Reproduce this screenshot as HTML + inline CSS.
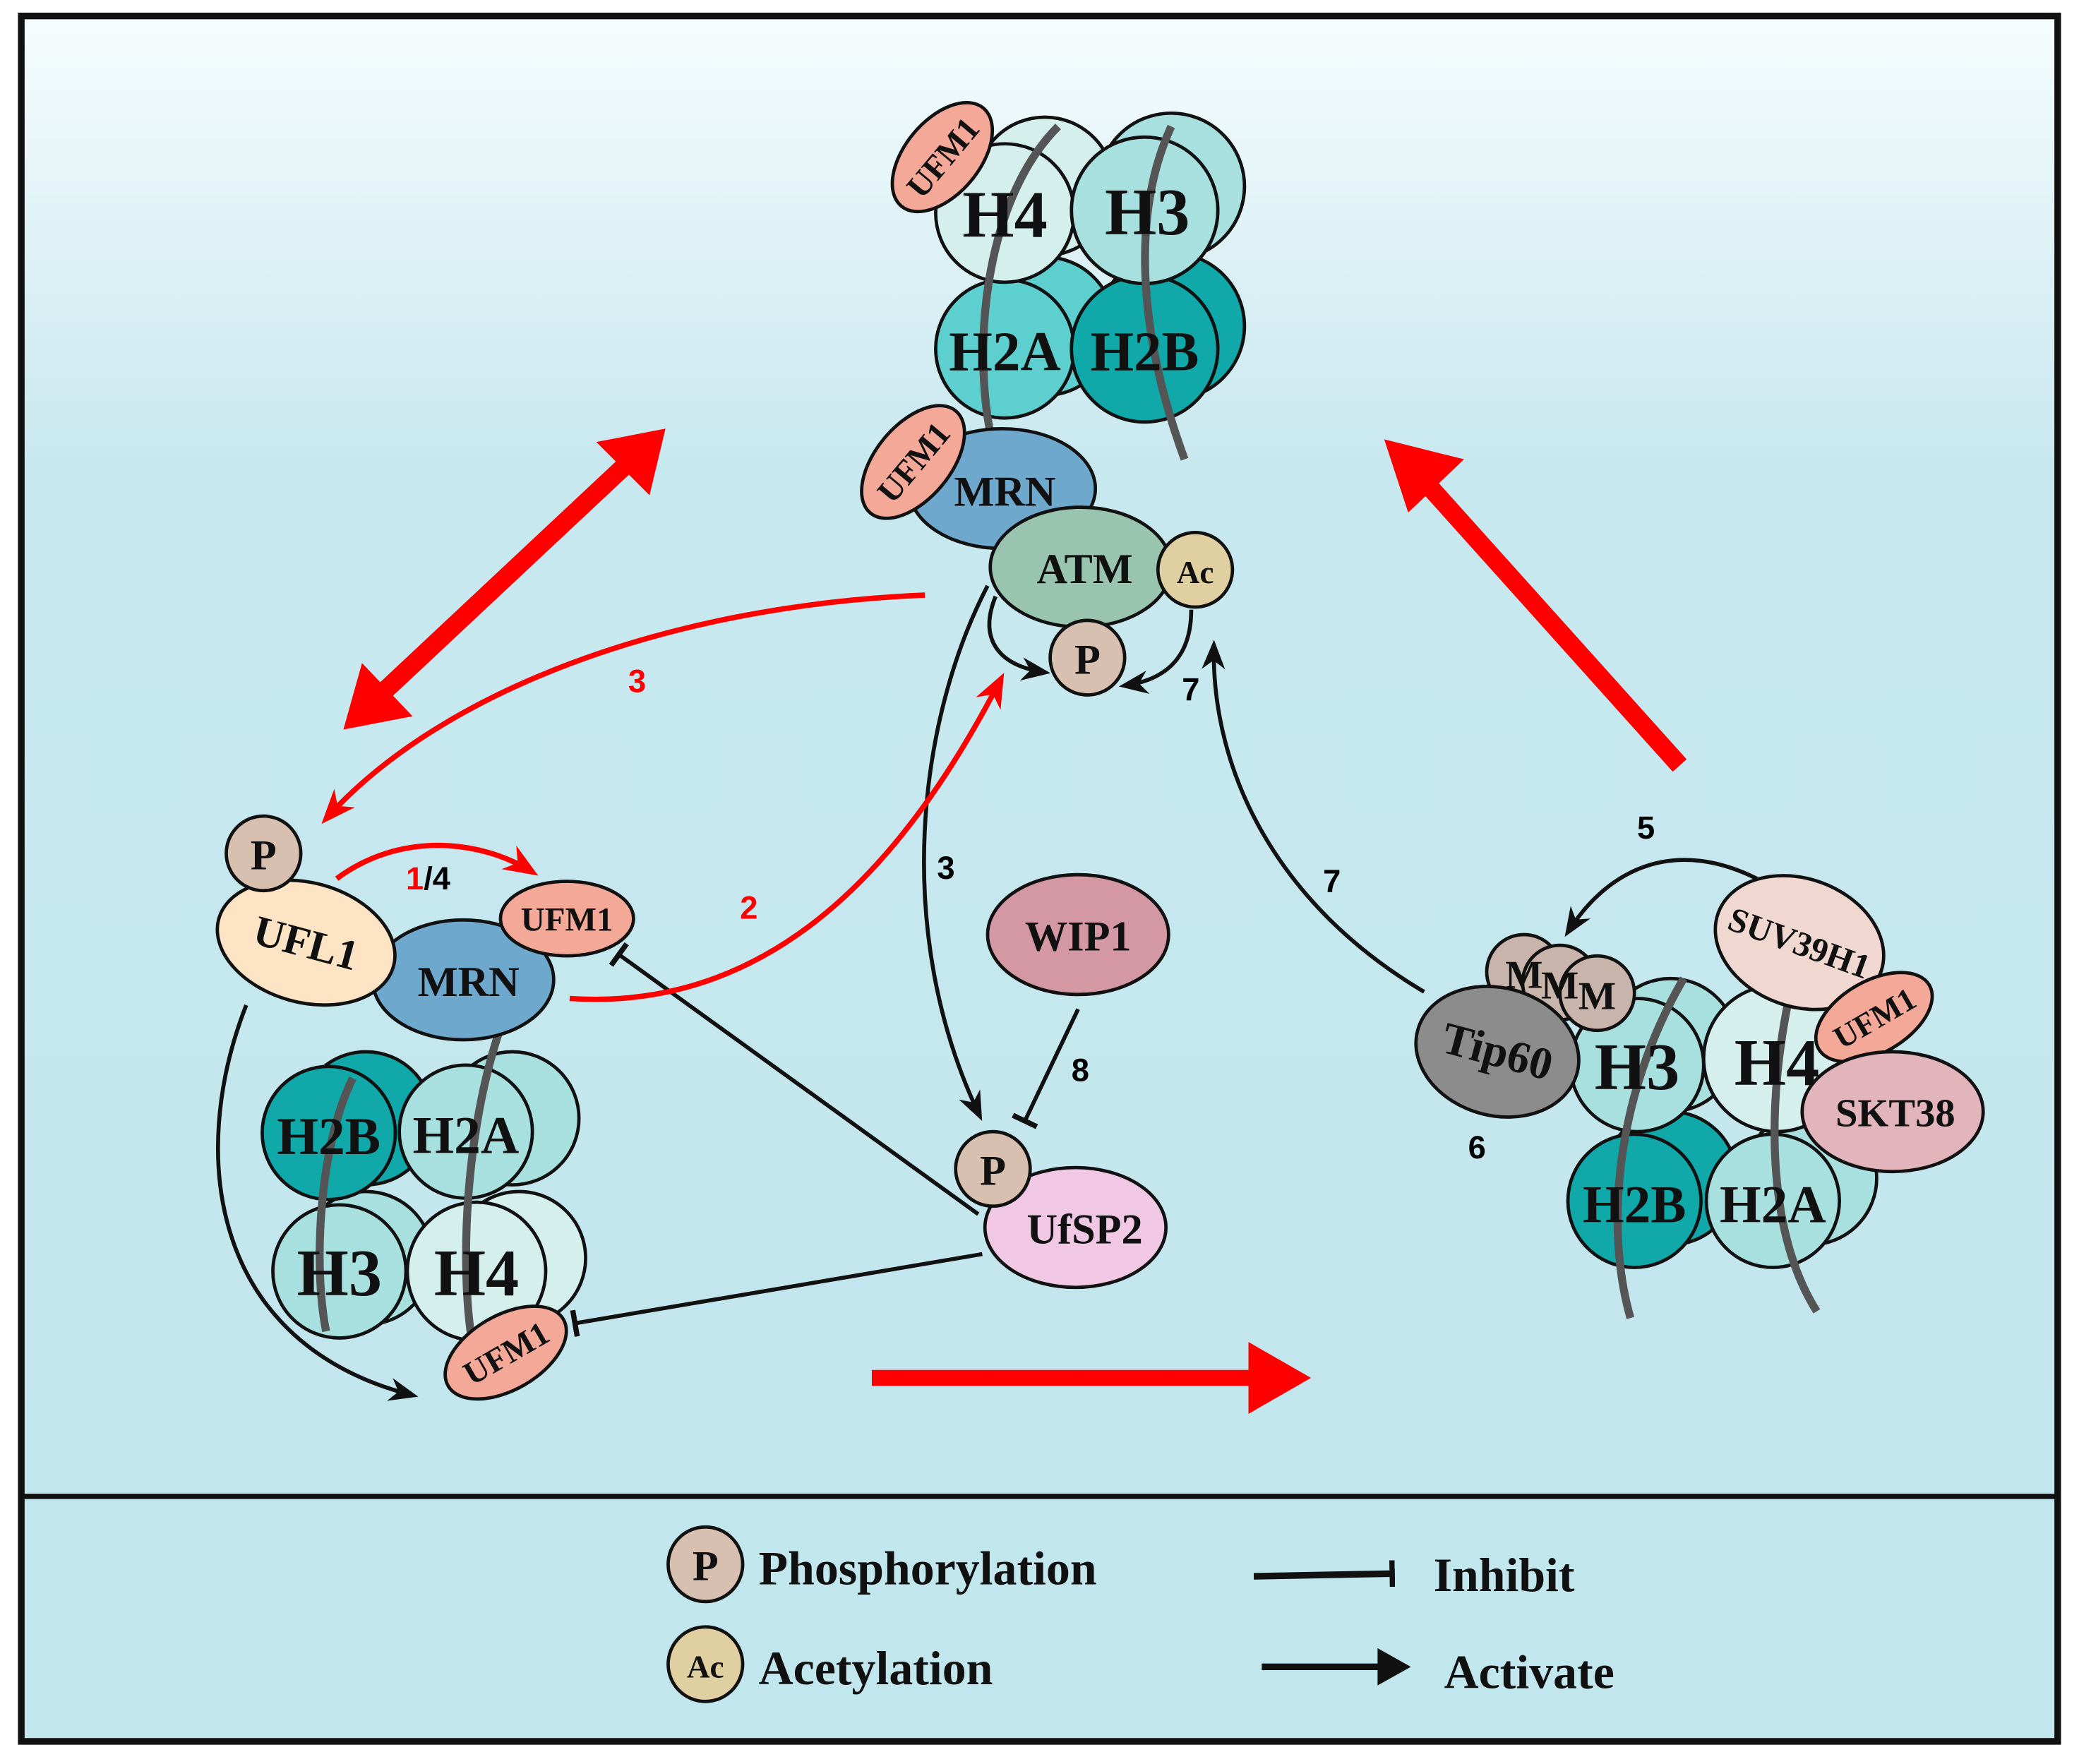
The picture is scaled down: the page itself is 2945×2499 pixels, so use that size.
<!DOCTYPE html>
<html><head><meta charset="utf-8"><style>
html,body{margin:0;padding:0;background:#fff;}
svg{display:block;}
.lb{font-family:"Liberation Serif",serif;font-weight:bold;fill:#111;}
.nm{font-family:"Liberation Sans",sans-serif;font-weight:bold;font-size:24px;}
</style></head><body>
<svg width="2945" height="2499" viewBox="0 0 1562 1325" preserveAspectRatio="none" xmlns="http://www.w3.org/2000/svg">
<defs>
<linearGradient id="bg" x1="0" y1="0" x2="0" y2="1">
<stop offset="0" stop-color="#f6fcfd"/><stop offset="0.3" stop-color="#c8e8ef"/><stop offset="1" stop-color="#c2e6ee"/>
</linearGradient>
<marker id="ak" viewBox="0 0 10 10" markerWidth="22" markerHeight="22" refX="8" refY="5" orient="auto" markerUnits="userSpaceOnUse"><path d="M0,1 L10,5 L0,9 L3,5z" fill="#111"/></marker>
<marker id="ar" viewBox="0 0 10 10" markerWidth="26" markerHeight="26" refX="8" refY="5" orient="auto" markerUnits="userSpaceOnUse"><path d="M0,1 L10,5 L0,9 L3,5z" fill="#f00"/></marker>
<marker id="tb" viewBox="0 0 4 20" markerWidth="4" markerHeight="20" refX="2" refY="10" orient="auto" markerUnits="userSpaceOnUse"><rect x="0" y="0" width="4" height="20" fill="#111"/></marker>
</defs>
<rect x="0" y="0" width="1562" height="1325" fill="#fff"/>
<rect x="16" y="12" width="1530" height="1112" fill="url(#bg)"/>
<rect x="16" y="1124" width="1530" height="184" fill="#c2e6ee"/>
<rect x="16" y="12" width="1530" height="1296" fill="none" stroke="#111" stroke-width="5"/>
<line x1="16" y1="1124" x2="1546" y2="1124" stroke="#111" stroke-width="4"/>

<g stroke="#111" stroke-width="2.5">
<circle cx="880" cy="140" r="55" fill="#a8e0e0"/>
<circle cx="785" cy="140" r="52" fill="#d4efec"/>
<circle cx="880" cy="245" r="55" fill="#10a8a8"/>
<circle cx="785" cy="245" r="52" fill="#5ecfcf"/>
<circle cx="755" cy="262" r="52" fill="#5ecfcf"/>
<circle cx="860" cy="262" r="55" fill="#10a8a8"/>
<circle cx="755" cy="160" r="52" fill="#d4efec"/>
<circle cx="860" cy="158" r="55" fill="#a8e0e0"/>
</g>
<path d="M795,95 C740,150 730,260 745,330" stroke="#555" stroke-width="6" fill="none"/>
<path d="M880,95 C850,160 855,250 890,345" stroke="#555" stroke-width="6" fill="none"/>
<text class="lb" x="755" y="178" font-size="50" text-anchor="middle">H4</text>
<text class="lb" x="862" y="176" font-size="50" text-anchor="middle">H3</text>
<text class="lb" x="755" y="278" font-size="42" text-anchor="middle">H2A</text>
<text class="lb" x="860" y="278" font-size="42" text-anchor="middle">H2B</text>
<g transform="translate(708,118) rotate(-50)"><ellipse rx="48" ry="28" fill="#f4a898" stroke="#111" stroke-width="2.5"/><text class="lb" y="9" font-size="25" text-anchor="middle">UFM1</text></g>
<ellipse cx="753" cy="367" rx="70" ry="45" fill="#6ea8cc" stroke="#111" stroke-width="2.5"/>
<g transform="translate(686,347) rotate(-50)"><ellipse rx="50" ry="28" fill="#f4a898" stroke="#111" stroke-width="2.5"/><text class="lb" y="9" font-size="25" text-anchor="middle">UFM1</text></g>
<text class="lb" x="755" y="380" font-size="32" text-anchor="middle">MRN</text>
<ellipse cx="812" cy="426" rx="68" ry="45" fill="#98c4b0" stroke="#111" stroke-width="2.5"/>
<text class="lb" x="815" y="438" font-size="32" text-anchor="middle">ATM</text>
<circle cx="898" cy="428" r="28" fill="#e0cfa0" stroke="#111" stroke-width="2.5"/>
<text class="lb" x="898" y="438" font-size="24" text-anchor="middle">Ac</text>
<circle cx="817" cy="494" r="28" fill="#d8c0b0" stroke="#111" stroke-width="2.5"/>
<text class="lb" x="817" y="506" font-size="32" text-anchor="middle">P</text>
<path d="M748,448 C735,480 750,500 785,505" stroke="#111" stroke-width="3" fill="none" marker-end="url(#ak)"/>
<path d="M895,458 C895,490 880,510 845,515" stroke="#111" stroke-width="3" fill="none" marker-end="url(#ak)"/>
<text class="nm" x="888" y="526">7</text>

<g stroke="#111" stroke-width="2.5">
<circle cx="275" cy="840" r="50" fill="#10a8a8"/>
<circle cx="385" cy="840" r="50" fill="#a8e0e0"/>
<circle cx="275" cy="945" r="50" fill="#a8e0e0"/>
<circle cx="390" cy="945" r="50" fill="#d4efec"/>
<circle cx="247" cy="851" r="50" fill="#10a8a8"/>
<circle cx="350" cy="850" r="50" fill="#a8e0e0"/>
<circle cx="255" cy="955" r="50" fill="#a8e0e0"/>
<circle cx="358" cy="955" r="52" fill="#d4efec"/>
</g>
<path d="M265,810 C240,860 235,950 245,1000" stroke="#555" stroke-width="6" fill="none"/>
<path d="M375,775 C350,850 345,950 355,1010" stroke="#555" stroke-width="6" fill="none"/>
<text class="lb" x="247" y="867" font-size="40" text-anchor="middle">H2B</text>
<text class="lb" x="350" y="866" font-size="40" text-anchor="middle">H2A</text>
<text class="lb" x="255" y="973" font-size="50" text-anchor="middle">H3</text>
<text class="lb" x="358" y="973" font-size="50" text-anchor="middle">H4</text>
<g transform="translate(380,1016) rotate(-30)"><ellipse rx="50" ry="28" fill="#f4a898" stroke="#111" stroke-width="2.5"/><text class="lb" y="9" font-size="25" text-anchor="middle">UFM1</text></g>
<ellipse cx="348" cy="736" rx="68" ry="45" fill="#6ea8cc" stroke="#111" stroke-width="2.5"/>
<text class="lb" x="352" y="748" font-size="32" text-anchor="middle">MRN</text>
<g transform="translate(230,708) rotate(15)"><ellipse rx="68" ry="45" fill="#fde4c4" stroke="#111" stroke-width="2.5"/><text class="lb" y="11" font-size="32" text-anchor="middle">UFL1</text></g>
<ellipse cx="426" cy="690" rx="50" ry="28" fill="#f4a898" stroke="#111" stroke-width="2.5"/>
<text class="lb" x="426" y="699" font-size="25" text-anchor="middle">UFM1</text>
<circle cx="198" cy="641" r="28" fill="#d8c0b0" stroke="#111" stroke-width="2.5"/>
<text class="lb" x="198" y="653" font-size="32" text-anchor="middle">P</text>
<path d="M185,755 C140,870 160,1010 310,1048" stroke="#111" stroke-width="3" fill="none" marker-end="url(#ak)"/>

<g stroke="#111" stroke-width="2.5">
<circle cx="1255" cy="785" r="50" fill="#a8e0e0"/>
<circle cx="1360" cy="780" r="55" fill="#d4efec"/>
<circle cx="1255" cy="885" r="50" fill="#10a8a8"/>
<circle cx="1360" cy="885" r="50" fill="#a8e0e0"/>
<circle cx="1228" cy="902" r="50" fill="#10a8a8"/>
<circle cx="1332" cy="902" r="50" fill="#a8e0e0"/>
<circle cx="1230" cy="800" r="50" fill="#a8e0e0"/>
<circle cx="1335" cy="795" r="55" fill="#d4efec"/>
</g>
<path d="M1265,735 C1215,820 1205,920 1225,990" stroke="#555" stroke-width="6" fill="none"/>
<path d="M1345,745 C1325,840 1330,930 1365,985" stroke="#555" stroke-width="6" fill="none"/>
<text class="lb" x="1230" y="818" font-size="50" text-anchor="middle">H3</text>
<text class="lb" x="1335" y="815" font-size="50" text-anchor="middle">H4</text>
<text class="lb" x="1228" y="918" font-size="40" text-anchor="middle">H2B</text>
<text class="lb" x="1332" y="918" font-size="40" text-anchor="middle">H2A</text>
<g stroke="#111" stroke-width="2.5" fill="#c8b4aa">
<circle cx="1145" cy="730" r="28"/><circle cx="1172" cy="738" r="28"/><circle cx="1200" cy="746" r="28"/>
</g>
<text class="lb" x="1145" y="742" font-size="30" text-anchor="middle">M</text>
<text class="lb" x="1172" y="750" font-size="30" text-anchor="middle">M</text>
<text class="lb" x="1200" y="758" font-size="30" text-anchor="middle">M</text>
<g transform="translate(1125,790) rotate(15)"><ellipse rx="62" ry="48" fill="#8c8c8c" stroke="#111" stroke-width="2.5"/><text class="lb" y="11" font-size="34" text-anchor="middle">Tip60</text></g>
<g transform="translate(1352,708) rotate(20)"><ellipse rx="65" ry="48" fill="#f0d8d0" stroke="#111" stroke-width="2.5"/><text class="lb" y="9" font-size="26" text-anchor="middle">SUV39H1</text></g>
<g transform="translate(1408,764) rotate(-30)"><ellipse rx="48" ry="27" fill="#f4a898" stroke="#111" stroke-width="2.5"/><text class="lb" y="9" font-size="24" text-anchor="middle">UFM1</text></g>
<ellipse cx="1422" cy="835" rx="68" ry="45" fill="#e2b4bc" stroke="#111" stroke-width="2.5"/>
<text class="lb" x="1424" y="846" font-size="30" text-anchor="middle">SKT38</text>
<path d="M1320,660 C1260,630 1210,650 1178,700" stroke="#111" stroke-width="3" fill="none" marker-end="url(#ak)"/>
<text class="nm" x="1230" y="630">5</text>
<text class="nm" x="1103" y="870">6</text>
<path d="M1070,745 C960,680 910,580 912,485" stroke="#111" stroke-width="3" fill="none" marker-end="url(#ak)"/>
<text class="nm" x="994" y="670">7</text>

<ellipse cx="810" cy="702" rx="68" ry="45" fill="#d498a4" stroke="#111" stroke-width="2.5"/>
<text class="lb" x="810" y="714" font-size="32" text-anchor="middle">WIP1</text>
<ellipse cx="808" cy="922" rx="68" ry="45" fill="#f0c8e4" stroke="#111" stroke-width="2.5"/>
<text class="lb" x="815" y="934" font-size="32" text-anchor="middle">UfSP2</text>
<circle cx="746" cy="878" r="28" fill="#d8c0b0" stroke="#111" stroke-width="2.5"/>
<text class="lb" x="746" y="890" font-size="32" text-anchor="middle">P</text>
<line x1="810" y1="758" x2="770" y2="842" stroke="#111" stroke-width="3" marker-end="url(#tb)"/>
<text class="nm" x="805" y="812">8</text>
<path d="M742,440 C690,540 670,700 736,838" stroke="#111" stroke-width="3" fill="none" marker-end="url(#ak)"/>
<text class="nm" x="704" y="660">3</text>
<line x1="735" y1="912" x2="465" y2="717" stroke="#111" stroke-width="3" marker-end="url(#tb)"/>
<line x1="738" y1="942" x2="432" y2="994" stroke="#111" stroke-width="3" marker-end="url(#tb)"/>

<path d="M695,447 C500,455 330,520 245,615" stroke="#f00" stroke-width="4" fill="none" marker-end="url(#ar)"/>
<text class="nm" x="472" y="520" fill="#f00">3</text>
<path d="M253,660 C300,625 360,630 400,655" stroke="#f00" stroke-width="4" fill="none" marker-end="url(#ar)"/>
<text class="nm" x="305" y="668"><tspan fill="#f00">1</tspan>/4</text>
<path d="M428,750 C580,760 680,650 752,510" stroke="#f00" stroke-width="4" fill="none" marker-end="url(#ar)"/>
<text class="nm" x="556" y="690" fill="#f00">2</text>
<line x1="275" y1="532" x2="480" y2="340" stroke="#f00" stroke-width="14"/>
<polygon points="500,322 488,372 448,332" fill="#f00"/>
<polygon points="258,548 272,498 310,538" fill="#f00"/>
<line x1="1262" y1="575" x2="1060" y2="350" stroke="#f00" stroke-width="14"/>
<polygon points="1040,330 1100,345 1058,385" fill="#f00"/>
<line x1="655" y1="1035" x2="960" y2="1035" stroke="#f00" stroke-width="12"/>
<polygon points="985,1035 938,1008 938,1062" fill="#f00"/>

<circle cx="530" cy="1175" r="28" fill="#d8c0b0" stroke="#111" stroke-width="2.5"/>
<text class="lb" x="530" y="1187" font-size="32" text-anchor="middle">P</text>
<text class="lb" x="570" y="1190" font-size="36">Phosphorylation</text>
<circle cx="530" cy="1250" r="28" fill="#e0cfa0" stroke="#111" stroke-width="2.5"/>
<text class="lb" x="530" y="1260" font-size="24" text-anchor="middle">Ac</text>
<text class="lb" x="570" y="1265" font-size="36">Acetylation</text>
<line x1="942" y1="1184" x2="1046" y2="1182" stroke="#111" stroke-width="5" marker-end="url(#tb)"/>
<text class="lb" x="1077" y="1195" font-size="36">Inhibit</text>
<line x1="948" y1="1252" x2="1050" y2="1252" stroke="#111" stroke-width="5"/>
<polygon points="1060,1252 1035,1238 1035,1266" fill="#111"/>
<text class="lb" x="1085" y="1268" font-size="36">Activate</text>
</svg>
</body></html>
